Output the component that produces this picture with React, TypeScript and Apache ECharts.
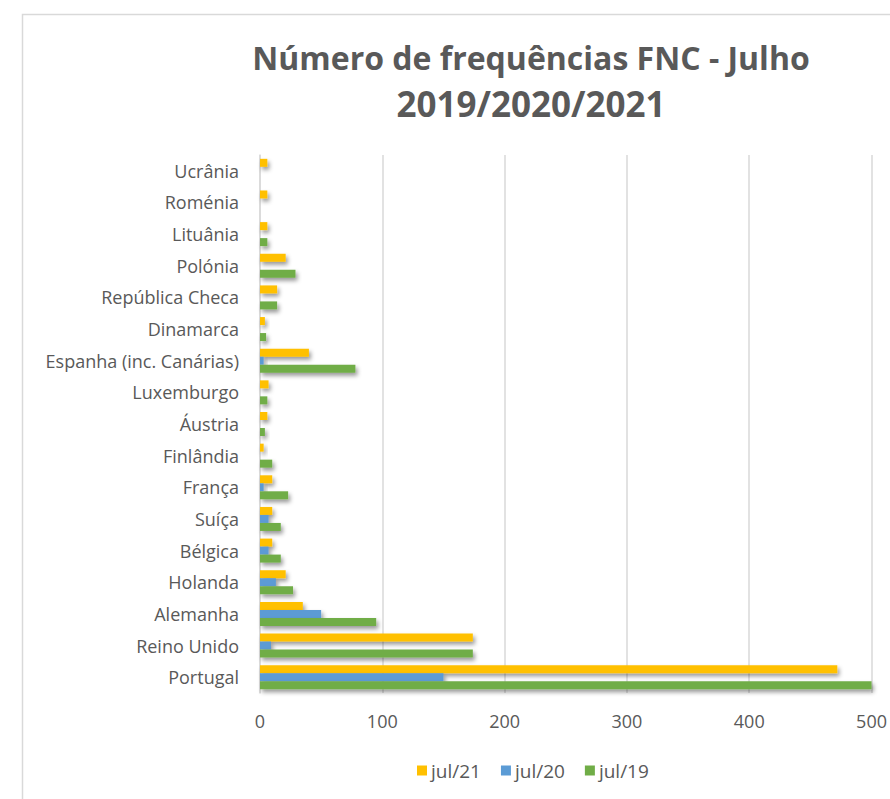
import React, { useEffect, useRef } from "react";
import * as echarts from "echarts";

const categories = [
  "Portugal",
  "Reino Unido",
  "Alemanha",
  "Holanda",
  "Bélgica",
  "Suíça",
  "França",
  "Finlândia",
  "Áustria",
  "Luxemburgo",
  "Espanha (inc. Canárias)",
  "Dinamarca",
  "República Checa",
  "Polónia",
  "Lituânia",
  "Roménia",
  "Ucrânia",
];
const jul21 = [472, 174, 35, 21, 10, 10, 10, 3, 6, 7, 40, 4, 14, 21, 6, 6, 6];
const jul20 = [150, 9, 50, 13, 7, 7, 3, 0, 0, 0, 3, 0, 0, 0, 0, 0, 0];
const jul19 = [500, 174, 95, 27, 17, 17, 23, 10, 4, 6, 78, 5, 14, 29, 6, 0, 0];
const xTicks = [0, 100, 200, 300, 400, 500];
const titleLines = ["Número de frequências FNC - Julho", "2019/2020/2021"];

const FONT = "'Open Sans', sans-serif";
const TXT = "#595959";

export default function App() {
  const ref = useRef<HTMLDivElement>(null);
  useEffect(() => {
    if (!ref.current) return;
    const chart = echarts.init(ref.current, undefined, { renderer: "svg" });
    const shadow = {
      shadowBlur: 4,
      shadowColor: "rgba(0,0,0,0.4)",
      shadowOffsetX: 2,
      shadowOffsetY: 3,
    };
    const mk = (name: string, data: number[], color: string) => ({
      name,
      type: "bar",
      data,
      barWidth: 8,
      barGap: "0%",
      itemStyle: { color, ...shadow },
    });
    chart.setOption({
      animation: false,
      backgroundColor: "#ffffff",
      textStyle: { fontFamily: FONT },
      graphic: [
        {
          type: "rect",
          shape: { x: 22.5, y: 14.5, width: 1000, height: 1000 },
          style: { fill: "none", stroke: "#d9d9d9", lineWidth: 1.5 },
          silent: true,
        },
        {
          type: "text",
          x: 531,
          y: 57,
          style: {
            text: titleLines[0],
            align: "center",
            verticalAlign: "middle",
            font: `bold 32px ${FONT}`,
            fill: TXT,
          },
        },
        {
          type: "text",
          x: 531,
          y: 103,
          style: {
            text: titleLines[1],
            align: "center",
            verticalAlign: "middle",
            font: `bold 35px ${FONT}`,
            fill: TXT,
          },
        },
      ],
      legend: {
        data: ["jul/21", "jul/20", "jul/19"],
        left: 412,
        top: 756,
        itemWidth: 10,
        itemHeight: 10,
        itemGap: 20,
        icon: "rect",
        textStyle: { color: TXT, fontSize: 19, fontFamily: FONT, padding: [0, 0, 0, -1] },
      },
      grid: { left: 260, right: 16, top: 155, bottom: 106, containLabel: false },
      xAxis: {
        type: "value",
        min: xTicks[0],
        max: xTicks[xTicks.length - 1],
        interval: 100,
        axisLabel: { color: TXT, fontSize: 18, margin: 19, fontFamily: FONT },
        axisLine: { show: false },
        axisTick: { show: false },
        splitLine: { lineStyle: { color: "#d9d9d9", width: 1.5 } },
      },
      yAxis: {
        type: "category",
        data: categories,
        axisLabel: { color: TXT, fontSize: 18, margin: 21, fontFamily: FONT },
        axisLine: { show: true, lineStyle: { color: "#d9d9d9", width: 1.5 } },
        axisTick: { show: false },
      },
      series: [
        mk("jul/21", jul21, "#FFC000"),
        mk("jul/20", jul20, "#5B9BD5"),
        mk("jul/19", jul19, "#70AD47"),
      ],
    });
    return () => chart.dispose();
  }, []);
  return (
    <div
      ref={ref}
      style={{ position: "fixed", left: 0, top: 0, width: 890, height: 799 }}
    />
  );
}
